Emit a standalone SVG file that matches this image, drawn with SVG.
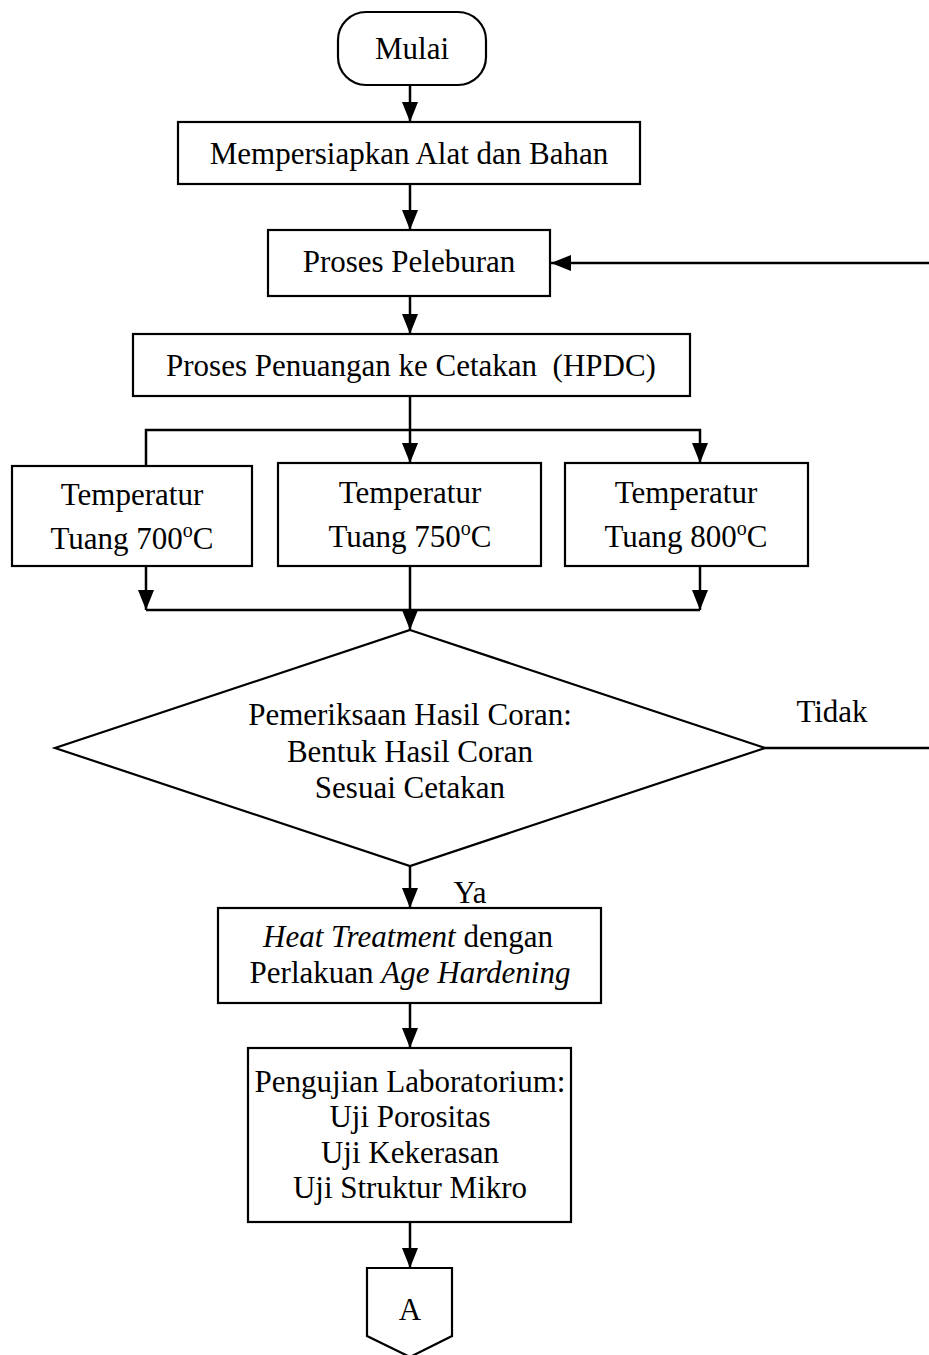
<svg xmlns="http://www.w3.org/2000/svg" width="929" height="1355" viewBox="0 0 929 1355">
<style>
.n{fill:#fff;stroke:#000;stroke-width:2.2}
.t{font-family:"Liberation Serif","Times New Roman",serif;font-size:31px;fill:#000;text-anchor:middle}
.c{fill:none;stroke:#000;stroke-width:2.5}
.a{marker-end:url(#ah)}
</style>
<defs>
<marker id="ah" markerUnits="userSpaceOnUse" markerWidth="20" markerHeight="16" refX="20" refY="8" orient="auto">
<path d="M0,0 L20,8 L0,16 z" fill="#000"/>
</marker>
</defs>
<rect width="929" height="1355" fill="#fff"/>
<g id="connectors">
<line class="c a" x1="410" y1="85" x2="410" y2="122"/>
<line class="c a" x1="410" y1="184" x2="410" y2="230"/>
<line class="c a" x1="929" y1="263" x2="551" y2="263"/>
<line class="c a" x1="410" y1="296" x2="410" y2="334"/>
<line class="c" x1="410" y1="396" x2="410" y2="430"/>
<polyline class="c" points="146,466 146,430 700,430 700,463" marker-end="url(#ah)"/>
<line class="c a" x1="410" y1="430" x2="410" y2="463"/>
<line class="c a" x1="146" y1="566" x2="146" y2="610"/>
<line class="c a" x1="700" y1="566" x2="700" y2="610"/>
<line class="c" x1="146" y1="610" x2="700" y2="610"/>
<line class="c a" x1="410" y1="566" x2="410" y2="630"/>
<line class="c" x1="765" y1="748" x2="929" y2="748"/>
<text class="t" x="832" y="722">Tidak</text>
<line class="c a" x1="410" y1="866" x2="410" y2="908"/>
<text class="t" x="470" y="903">Ya</text>
<line class="c a" x1="410" y1="1003" x2="410" y2="1048"/>
<line class="c a" x1="410" y1="1222" x2="410" y2="1268"/>
</g>
<g id="mulai">
<rect class="n" x="338" y="12" width="148" height="73" rx="28"/>
<text class="t" x="412" y="59">Mulai</text>
</g>
<g id="persiapan">
<rect class="n" x="178" y="122" width="462" height="62"/>
<text class="t" x="409" y="164">Mempersiapkan Alat dan Bahan</text>
</g>
<g id="peleburan">
<rect class="n" x="268" y="230" width="282" height="66"/>
<text class="t" x="409" y="272">Proses Peleburan</text>
</g>
<g id="penuangan">
<rect class="n" x="133" y="334" width="557" height="62"/>
<text class="t" x="411" y="376" xml:space="preserve">Proses Penuangan ke Cetakan  (HPDC)</text>
</g>
<g id="temp700">
<rect class="n" x="12" y="466" width="240" height="100"/>
<text class="t" x="132" y="505">Temperatur</text>
<text class="t" x="132" y="549">Tuang 700<tspan font-size="20" dy="-12">o</tspan><tspan dy="12">C</tspan></text>
</g>
<g id="temp750">
<rect class="n" x="278" y="463" width="263" height="103"/>
<text class="t" x="410" y="503">Temperatur</text>
<text class="t" x="410" y="547">Tuang 750<tspan font-size="20" dy="-12">o</tspan><tspan dy="12">C</tspan></text>
</g>
<g id="temp800">
<rect class="n" x="565" y="463" width="243" height="103"/>
<text class="t" x="686" y="503">Temperatur</text>
<text class="t" x="686" y="547">Tuang 800<tspan font-size="20" dy="-12">o</tspan><tspan dy="12">C</tspan></text>
</g>
<g id="pemeriksaan">
<polygon class="n" points="410,630 765,748 410,866 55,748"/>
<text class="t" x="410" y="725">Pemeriksaan Hasil Coran:</text>
<text class="t" x="410" y="762">Bentuk Hasil Coran</text>
<text class="t" x="410" y="798">Sesuai Cetakan</text>
</g>
<g id="heat">
<rect class="n" x="218" y="908" width="383" height="95"/>
<text class="t" x="408" y="947"><tspan font-style="italic">Heat Treatment</tspan> dengan</text>
<text class="t" x="410" y="983">Perlakuan <tspan font-style="italic">Age Hardening</tspan></text>
</g>
<g id="pengujian">
<rect class="n" x="248" y="1048" width="323" height="174"/>
<text class="t" x="410" y="1092">Pengujian Laboratorium:</text>
<text class="t" x="410" y="1127">Uji Porositas</text>
<text class="t" x="410" y="1163">Uji Kekerasan</text>
<text class="t" x="410" y="1198">Uji Struktur Mikro</text>
</g>
<g id="A">
<polygon class="n" points="367,1268 452,1268 452,1336 410,1357 367,1336"/>
<text class="t" x="410" y="1320">A</text>
</g>
</svg>
